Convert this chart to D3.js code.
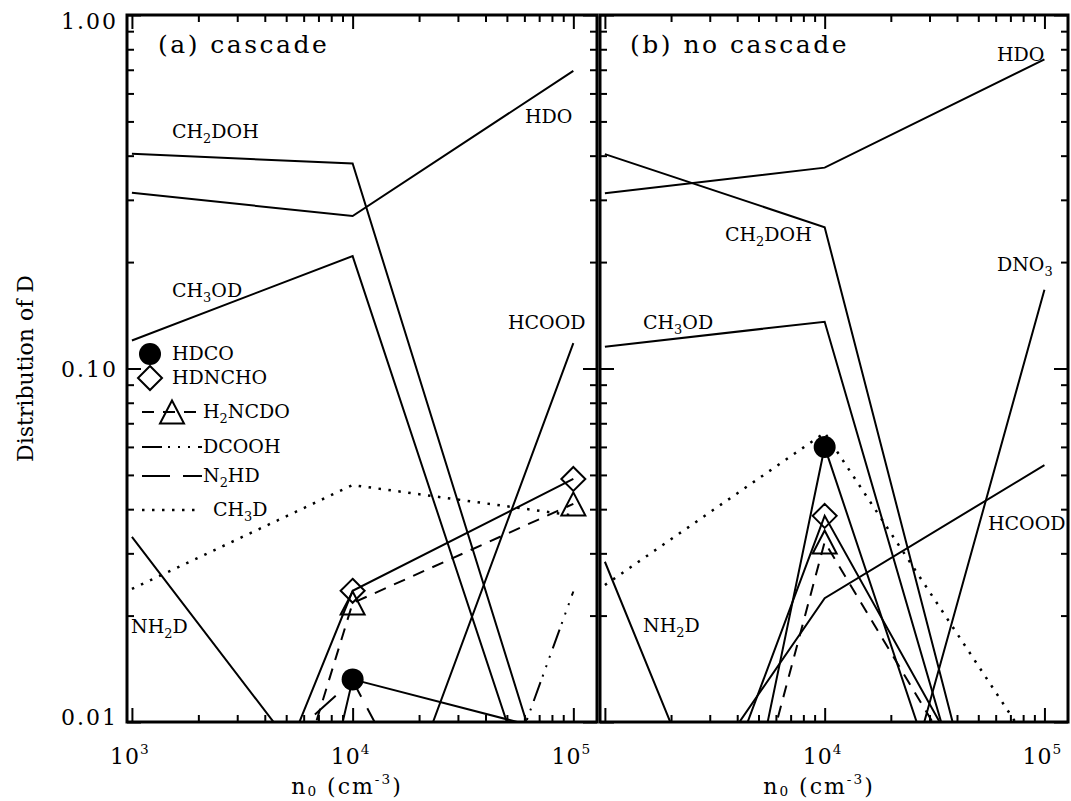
<!DOCTYPE html>
<html>
<head>
<meta charset="utf-8">
<script src="https://cdn.jsdelivr.net/npm/d3@7"></script>
<style>
  body { margin: 0; background: #fff; }
  text { font-family: "DejaVu Serif", serif; fill: #000; }
</style>
</head>
<body>
<div id="chart"></div>
<script>
// densities n0 (cm^-3) at which the models were run
var densities = [1e3, 1e4, 1e5];

// (a) cascade
var cascadeHDO    = [0.314, 0.270, 0.695];
var cascadeCH2DOH = [0.405, 0.380, 0.00375];
var cascadeCH3OD  = [0.120, 0.208, 0.0027];
var cascadeHCOOD  = [0.0005, 0.00243, 0.118];
var cascadeNH2D   = [0.0334, 0.0051, 0.003];
var cascadeCH3D   = [0.0238, 0.0468, 0.0384];
var cascadeHDCO   = [0.000028, 0.0132, 0.0091];
var cascadeHDNCHO = [0.00068, 0.0235, 0.0487];
var cascadeH2NCDO = [0.0002, 0.0217, 0.0414];
var cascadeDCOOH  = [0.0002, 0.00044, 0.0234];
var cascadeN2HD   = [0.0036, 0.0131, 0.00087];

// (b) no cascade
var noCascadeHDO    = [0.313, 0.370, 0.749];
var noCascadeCH2DOH = [0.404, 0.251, 0.00099];
var noCascadeCH3OD  = [0.1153, 0.1356, 0.00099];
var noCascadeDNO3   = [0.0005, 0.00097, 0.167];
var noCascadeHCOOD  = [0.0028, 0.0224, 0.0533];
var noCascadeNH2D   = [0.0284, 0.00085, 0.0005];
var noCascadeCH3D   = [0.0244, 0.0658, 0.0075];
var noCascadeHDCO   = [0.00006, 0.060, 0.00083];
var noCascadeHDNCHO = [0.00083, 0.0383, 0.00294];
var noCascadeH2NCDO = [0.00015, 0.0323, 0.00296];

// axes
var yMajor = [0.01, 0.1, 1];
var yMajorLabels = ['0.01', '0.10', '1.00'];
var xMajor = [1e3, 1e4, 1e5];
var xLabelsA = ['10^3', '10^4', '10^5'];
var xLabelsB = ['', '10^4', '10^5'];

var W = 1071, H = 801;
var plotTop = 15, plotBottom = 722;

var dashes = {
  solid: null,
  dashed: '12,9',
  dashdot3: '20,6,2,8,2,8,2,8',
  longdash: '28,13',
  dotted: '2.5,7.5'
};

var svg = d3.select('#chart').append('svg')
  .attr('width', W)
  .attr('height', H);

svg.append('rect').attr('width', W).attr('height', H).attr('fill', '#fff');

var y = d3.scaleLog().domain([0.01, 1]).range([plotBottom, plotTop]);

function minorTicks(lo, hi){
  var out = [];
  for(var d = lo; d < hi; d *= 10){
    for(var k = 2; k < 10; k++){ out.push(k * d); }
  }
  return out;
}

// text with _sub and ^super parts
function addRich(t, str, size, subScale, subDrop){
  var tokens = [], re = /([_^])(?:\{([^}]*)\}|(.))/g, last = 0, m;
  while((m = re.exec(str))){
    if(m.index > last) tokens.push({s: str.slice(last, m.index), k: 0});
    tokens.push({s: m[2] !== undefined ? m[2] : m[3], k: m[1] === '_' ? 1 : -1});
    last = re.lastIndex;
  }
  if(last < str.length) tokens.push({s: str.slice(last), k: 0});
  var shift = 0;
  tokens.forEach(function(tk){
    var off = tk.k === 1 ? size * (subDrop || 0.28) : (tk.k === -1 ? -size * 0.45 : 0);
    t.append('tspan')
      .attr('dy', off - shift)
      .style('font-size', tk.k ? (size * (subScale || 0.68)) + 'px' : null)
      .text(tk.s);
    shift = off;
  });
}

function label(g, str, x0, y0, size, spacing, anchor, subScale, subDrop){
  var t = g.append('text')
    .attr('x', x0).attr('y', y0)
    .style('font-size', size + 'px')
    .style('letter-spacing', (spacing || 0) + 'px')
    .attr('text-anchor', anchor || 'start')
    .attr('xml:space', 'preserve');
  addRich(t, str, size, subScale, subDrop);
  return t;
}

function symbolPath(type){
  if(type === 'diamond') return 'M0,-12L12,0L0,12L-12,0Z';
  if(type === 'triangle') return 'M0,-11.5L12,11.5L-12,11.5Z';
  return null;
}

function drawSymbol(g, type, cx, cy){
  if(type === 'circle'){
    g.append('circle').attr('cx', cx).attr('cy', cy).attr('r', 11).attr('fill', '#000');
  } else {
    g.append('path').attr('d', symbolPath(type))
      .attr('transform', 'translate(' + cx + ',' + cy + ')')
      .attr('fill', 'none').attr('stroke', '#000').attr('stroke-width', 2);
  }
}

var panels = [
  {
    id: 'a', left: 127, right: 597, xLabels: xLabelsA,
    series: [
      {values: cascadeHDO, style: 'solid'},
      {values: cascadeCH2DOH, style: 'solid'},
      {values: cascadeCH3OD, style: 'solid'},
      {values: cascadeHCOOD, style: 'solid'},
      {values: cascadeNH2D, style: 'solid'},
      {values: cascadeCH3D, style: 'dotted'},
      {values: cascadeDCOOH, style: 'dashdot3'},
      {values: cascadeN2HD, style: 'longdash'},
      {values: cascadeH2NCDO, style: 'dashed', symbol: 'triangle'},
      {values: cascadeHDNCHO, style: 'solid', symbol: 'diamond'},
      {values: cascadeHDCO, style: 'solid', symbol: 'circle'}
    ],
    title: {text: '(a) cascade', x: 158, y: 53},
    notes: [
      {text: 'CH_2DOH', x: 172, y: 138},
      {text: 'HDO', x: 525, y: 123},
      {text: 'CH_3OD', x: 172, y: 297},
      {text: 'HCOOD', x: 508, y: 329},
      {text: 'NH_2D', x: 131, y: 633}
    ]
  },
  {
    id: 'b', left: 600, right: 1068, xLabels: xLabelsB,
    series: [
      {values: noCascadeHDO, style: 'solid'},
      {values: noCascadeCH2DOH, style: 'solid'},
      {values: noCascadeCH3OD, style: 'solid'},
      {values: noCascadeDNO3, style: 'solid'},
      {values: noCascadeHCOOD, style: 'solid'},
      {values: noCascadeNH2D, style: 'solid'},
      {values: noCascadeCH3D, style: 'dotted'},
      {values: noCascadeH2NCDO, style: 'dashed', symbol: 'triangle'},
      {values: noCascadeHDNCHO, style: 'solid', symbol: 'diamond'},
      {values: noCascadeHDCO, style: 'solid', symbol: 'circle'}
    ],
    title: {text: '(b) no cascade', x: 630, y: 53},
    notes: [
      {text: 'HDO', x: 997, y: 61},
      {text: 'CH_2DOH', x: 725, y: 241},
      {text: 'DNO_3', x: 997, y: 271},
      {text: 'CH_3OD', x: 643, y: 329},
      {text: 'HCOOD', x: 988, y: 530},
      {text: 'NH_2D', x: 643, y: 632}
    ]
  }
];

panels.forEach(function(p){
  var x = d3.scaleLog().domain([950, 1.28e5]).range([p.left, p.right]);
  var g = svg.append('g').attr('class', 'panel ' + p.id);

  var clipId = 'clip-' + p.id;
  svg.append('clipPath').attr('id', clipId)
    .append('rect')
      .attr('x', p.left).attr('y', plotTop)
      .attr('width', p.right - p.left).attr('height', plotBottom - plotTop);

  var plot = g.append('g').attr('clip-path', 'url(#' + clipId + ')');

  var line = d3.line()
    .x(function(d){ return x(d[0]); })
    .y(function(d){ return y(d[1]); });

  p.series.forEach(function(s){
    var pts = densities.map(function(n, i){ return [n, s.values[i]]; });
    plot.append('path')
      .datum(pts)
      .attr('d', line)
      .attr('fill', 'none')
      .attr('stroke', '#000')
      .attr('stroke-width', s.style === 'dotted' ? 2.5 : 2)
      .attr('stroke-dasharray', dashes[s.style]);
    if(s.symbol){
      pts.forEach(function(d){ drawSymbol(plot, s.symbol, x(d[0]), y(d[1])); });
    }
  });

  // axes, ticks pointing inward
  var xMinor = minorTicks(1e3, 1e5);
  var yMinor = minorTicks(0.01, 1);
  var axes = g.append('g').attr('class', 'axes');

  axes.append('g').attr('transform', 'translate(0,' + plotBottom + ')')
    .call(d3.axisBottom(x).tickValues(xMajor).tickSize(-14).tickFormat(''));
  axes.append('g').attr('transform', 'translate(0,' + plotBottom + ')')
    .call(d3.axisBottom(x).tickValues(xMinor).tickSize(-7).tickFormat(''));
  axes.append('g').attr('transform', 'translate(0,' + plotTop + ')')
    .call(d3.axisTop(x).tickValues(xMajor).tickSize(-14).tickFormat(''));
  axes.append('g').attr('transform', 'translate(0,' + plotTop + ')')
    .call(d3.axisTop(x).tickValues(xMinor).tickSize(-7).tickFormat(''));
  axes.append('g').attr('transform', 'translate(' + p.left + ',0)')
    .call(d3.axisLeft(y).tickValues(yMajor).tickSize(-14).tickFormat(''));
  axes.append('g').attr('transform', 'translate(' + p.left + ',0)')
    .call(d3.axisLeft(y).tickValues(yMinor).tickSize(-7).tickFormat(''));
  axes.append('g').attr('transform', 'translate(' + p.right + ',0)')
    .call(d3.axisRight(y).tickValues(yMajor).tickSize(-14).tickFormat(''));
  axes.append('g').attr('transform', 'translate(' + p.right + ',0)')
    .call(d3.axisRight(y).tickValues(yMinor).tickSize(-7).tickFormat(''));

  axes.selectAll('.domain').remove();
  axes.selectAll('.tick line').attr('stroke', '#000').attr('stroke-width', 2);

  g.append('rect')
    .attr('x', p.left).attr('y', plotTop)
    .attr('width', p.right - p.left).attr('height', plotBottom - plotTop)
    .attr('fill', 'none').attr('stroke', '#000').attr('stroke-width', 3);

  // x tick labels
  xMajor.forEach(function(v, i){
    if(!p.xLabels[i]) return;
    label(g, p.xLabels[i], x(v) - 2, 764, 22, 1, 'middle', 0.62);
  });

  // x axis title
  label(g, 'n_0 (cm^{-3})', (p.left + p.right) / 2 - 15, 794, 22, 2, 'middle', 0.62, 0.1);

  // panel annotations
  label(g, p.title.text, p.title.x, p.title.y, 25, 2.5);
  p.notes.forEach(function(n){ label(g, n.text, n.x, n.y, 19, 0); });
});

// y tick labels (left panel only), kept inside the frame height
yMajor.forEach(function(v, i){
  var yy = Math.max(plotTop + 6, Math.min(plotBottom - 5, y(v)));
  svg.append('text')
    .attr('x', 118).attr('y', yy + 8)
    .attr('text-anchor', 'end')
    .style('font-size', '22px')
    .style('letter-spacing', '2px')
    .text(yMajorLabels[i]);
});

svg.append('text')
  .attr('transform', 'translate(33,' + ((plotTop + plotBottom) / 2) + ') rotate(-90)')
  .attr('text-anchor', 'middle')
  .style('font-size', '22px')
  .text('Distribution of D');

// legend inside panel (a)
var legend = svg.append('g').attr('class', 'legend');
var legendRows = [
  {name: 'HDCO', symbol: 'circle', style: null, y: 354, tx: 172},
  {name: 'HDNCHO', symbol: 'diamond', style: null, y: 378, tx: 172},
  {name: 'H_2NCDO', symbol: 'triangle', style: 'dashed', y: 412, tx: 203},
  {name: 'DCOOH', symbol: null, style: 'dashdot3', y: 447, tx: 203},
  {name: 'N_2HD', symbol: null, style: 'longdash', y: 476, tx: 203},
  {name: 'CH_3D', symbol: null, style: 'dotted', y: 510, tx: 213}
];
legendRows.forEach(function(r){
  if(r.style){
    legend.append('line')
      .attr('x1', 142).attr('x2', 202)
      .attr('y1', r.y).attr('y2', r.y)
      .attr('stroke', '#000')
      .attr('stroke-width', r.style === 'dotted' ? 2.5 : 2)
      .attr('stroke-dasharray', dashes[r.style]);
  }
  if(r.symbol){
    drawSymbol(legend, r.symbol, r.style ? 172 : 150, r.y);
  }
  label(legend, r.name, r.tx, r.y + 6, 19, 0);
});
</script>
</body>
</html>
